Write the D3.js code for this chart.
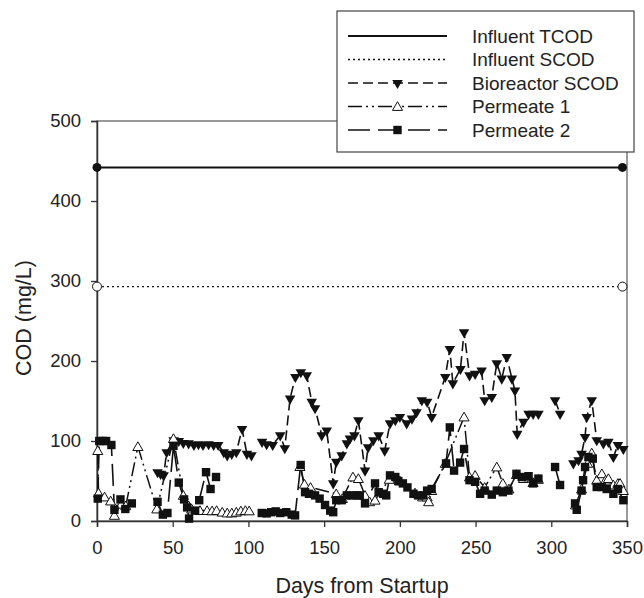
<!DOCTYPE html>
<html>
<head>
<meta charset="utf-8">
<script src="https://cdn.jsdelivr.net/npm/d3@7"></script>
<style>
    body { margin: 0; background: #fff; }
    svg text { font-family: "Liberation Sans", Arial, sans-serif; fill: #222; }
</style>
</head>
<body>
<div id="chart"></div>
<script>
// COD over days from startup

const xTicks = [0, 50, 100, 150, 200, 250, 300, 350];
const yTicks = [0, 100, 200, 300, 400, 500];

const influentDays = [0, 347];
const influentTcod = 442;
const influentScod = 293;

// [day, COD]; null value = break in the line
const bioreactorScod = [
    [40, 61], [42, 59], [44, 57], [46, 86], [50.6, 101], [54, 100], [57, 97.5], [60.5, 97],
    [64, 95], [67, 96], [70, 95], [73.7, 96], [77, 95], [80, 95], [83.7, 86], [86, 82],
    [89, 84], [92, 86], [95.8, 115], [99, 84], [102, 82], [105, null],
    [109, 99], [112, 96], [116, 95], [121, 107], [124, 91], [127.5, 153], [131, 180],
    [134.6, 186], [138.5, 182], [141.8, 149], [144, 141], [148.4, 107], [151.7, 113],
    [156, 47], [158, 74], [161.6, 82], [165, 97], [167, 103], [170, 107], [172.6, 126],
    [177, 63], [179, 92], [182.5, 101], [186, 107], [190, 88], [193.5, 122], [197, 126],
    [200, 130], [204.5, 122], [208, 128], [211, 136], [214.5, 151], [218, 149], [221, 130],
    [230, 180], [233, 215], [235, 172], [240, 190], [242.4, 236], [246, 182], [249.7, 184],
    [254, 188], [256, 151], [260.7, 155], [264, 197], [267.3, 178], [270.6, 205],
    [274, 178], [276, 163], [277.5, 109], [281.6, 124], [285, 134], [288, 134], [291.5, 134],
    [297, null], [302.5, 151], [305.8, 134], [310, null],
    [314.6, 72], [318, 76], [320, 84], [322.3, 105], [323.4, 130], [326.7, 151], [330, 101],
    [334.4, 97], [337.7, 99], [341, 80], [344, 95], [347.6, 90]
];

const permeate1 = [
    [0.5, 88], [1, 35], [5, 30], [9, 25], [11.5, 7], [16, 21], [19, 19], [27, 93],
    [39.5, 15], [50.5, 103], [57, 32], [60.5, 19], [62.5, 15], [68, 13], [72.7, 13],
    [76, 12.6], [79, 13], [82.7, 11], [86, 10], [89, 10], [92, 11], [95, 12.6], [98, 13],
    [100.5, 12.6], [115, null],
    [134, 68], [137, 46], [141, 42], [158, 34], [162, 28], [169, 55], [172.6, 53],
    [177, 32], [180, 24], [183.6, 26], [193, 52], [200, 50], [210, 35], [215, 30],
    [218, 30], [219, 24], [221, 38], [230, 72], [242.4, 130], [246, 55], [249.7, 57],
    [256, 42], [264, 67.5], [268, 47], [272, 40], [277, 58], [281.6, 53], [285, 55],
    [288, 48], [291.5, 52], [300, null],
    [316, 20], [320, 40], [324, 72], [326.7, 85], [330, 51], [333.4, 59], [335.8, 51],
    [337.7, 53], [341, 45], [344, 47], [345.4, 47], [347.6, 38]
];

const permeate2 = [
    [0.5, 28], [1.5, 100], [4, 100], [6, 100], [9.5, 95], [11.5, 14], [15.5, 27],
    [18.7, 15], [23, 22], [30, null],
    [40, 24], [43.5, 8], [46.5, 10], [50.5, 94], [54, 48], [57.5, 27], [59.5, 17],
    [60.8, 3], [64.8, 13], [67.5, 26], [72, 61], [75, 40], [78.6, 55], [90, null],
    [108.8, 10], [112, 9.5], [115, 11], [118, 12], [121, 10], [125, 11], [128.6, 8],
    [130.8, 7], [134.5, 70], [137.4, 36], [140, 34], [144, 32], [147, 28], [150.6, 20],
    [154, 13], [156, 11], [158, 26], [161.6, 26], [165, 32], [168, 32], [171.5, 32],
    [173.5, 32], [177, 22], [183.6, 47], [186, 36], [189, 34], [191, 32], [193.5, 57],
    [197, 55], [199, 50], [202, 47], [205, 42], [209, 34], [212, 32], [215.5, 32],
    [218, 38], [221, 40], [230.5, 72], [233, 117], [235.8, 63], [239.8, 73], [242.4, 90],
    [246, 51], [249.7, 49], [253, 34], [256, 38], [260.7, 33], [264, 38], [268, 36],
    [271.7, 38], [277, 59], [280.5, 55], [285, 56], [288, 47], [291.5, 53], [297, null],
    [302.5, 67.5], [305.8, 45], [310, null],
    [315.7, 22], [316.8, 14], [320, 38], [321, 51], [322.3, 67.5], [324.5, 80],
    [327.4, 78], [330, 42.5], [333.3, 42.5], [336.6, 40], [341, 34], [344, 40], [347.6, 26]
];

const legendLabels = ["Influent TCOD", "Influent SCOD", "Bioreactor SCOD", "Permeate 1", "Permeate 2"];

const W = 644, H = 598;
const margin = { top: 121, left: 97 };
const width = 530, height = 400;

const svg = d3.select("#chart").append("svg")
    .attr("width", W)
    .attr("height", H);

const x = d3.scaleLinear().domain([0, 350]).range([margin.left, margin.left + width]);
const y = d3.scaleLinear().domain([0, 500]).range([margin.top + height, margin.top]);

const axisColor = "#333";

// frame (top and right)
svg.append("rect")
    .attr("x", margin.left).attr("y", margin.top)
    .attr("width", width).attr("height", height)
    .attr("fill", "none").attr("stroke", "#555").attr("stroke-width", 1.2);

const xAxis = svg.append("g")
    .attr("transform", `translate(0,${margin.top + height})`)
    .call(d3.axisBottom(x).tickValues(xTicks).tickSize(6).tickPadding(14));

const yAxis = svg.append("g")
    .attr("transform", `translate(${margin.left},0)`)
    .call(d3.axisLeft(y).tickValues(yTicks).tickSize(6).tickPadding(10));

[xAxis, yAxis].forEach(g => {
    g.select(".domain").attr("stroke", axisColor).attr("stroke-width", 1.5);
    g.selectAll(".tick line").attr("stroke", axisColor).attr("stroke-width", 1.3);
    g.selectAll(".tick text").style("font-size", "18.5px").attr("fill", "#222");
});

svg.append("text")
    .attr("x", margin.left + width / 2)
    .attr("y", 593)
    .attr("text-anchor", "middle")
    .style("font-size", "21.5px")
    .text("Days from Startup");

svg.append("text")
    .attr("transform", `translate(31,318) rotate(-90)`)
    .attr("text-anchor", "middle")
    .style("font-size", "21.5px")
    .text("COD (mg/L)");

const series = [
    { data: influentDays.map(d => [d, influentTcod]), dash: null, width: 2, marker: "circleFilled", endsOnly: true },
    { data: influentDays.map(d => [d, influentScod]), dash: "2,3", width: 1.3, marker: "circleOpen", endsOnly: true },
    { data: bioreactorScod, dash: "10,5", width: 1.6, marker: "triDown" },
    { data: permeate1, dash: "14,4,2,4,2,4", width: 1.5, marker: "triUp" },
    { data: permeate2, dash: "22,8", width: 1.6, marker: "square" }
];

const line = d3.line()
    .defined(d => d[1] !== null)
    .x(d => x(d[0]))
    .y(d => y(d[1]));

function drawMarker(g, type, cx, cy) {
    if (type === "circleFilled") {
        g.append("circle").attr("cx", cx).attr("cy", cy).attr("r", 4.5).attr("fill", "#111");
    } else if (type === "circleOpen") {
        g.append("circle").attr("cx", cx).attr("cy", cy).attr("r", 4.5)
            .attr("fill", "#fff").attr("stroke", "#111").attr("stroke-width", 1);
    } else if (type === "triDown") {
        g.append("path").attr("d", d3.symbol(d3.symbolTriangle, 48)())
            .attr("transform", `translate(${cx},${cy}) rotate(180)`).attr("fill", "#111");
    } else if (type === "triUp") {
        g.append("path").attr("d", d3.symbol(d3.symbolTriangle, 44)())
            .attr("transform", `translate(${cx},${cy + 1})`)
            .attr("fill", "#fff").attr("stroke", "#111").attr("stroke-width", 1);
    } else if (type === "square") {
        g.append("rect").attr("x", cx - 4.2).attr("y", cy - 4.2)
            .attr("width", 8.4).attr("height", 8.4).attr("fill", "#111");
    }
}

const plot = svg.append("g");

series.forEach(s => {
    plot.append("path")
        .datum(s.data)
        .attr("fill", "none")
        .attr("stroke", "#111")
        .attr("stroke-width", s.width)
        .attr("stroke-dasharray", s.dash)
        .attr("d", line);
});

series.forEach(s => {
    const g = plot.append("g");
    s.data.filter(d => d[1] !== null).forEach(d => drawMarker(g, s.marker, x(d[0]), y(d[1])));
});

// legend
const legend = svg.append("g");
legend.append("rect")
    .attr("x", 337).attr("y", 11)
    .attr("width", 297).attr("height", 141)
    .attr("fill", "#fff").attr("stroke", "#444").attr("stroke-width", 1.2);

legendLabels.forEach((label, i) => {
    const s = series[i];
    const ly = 36 + i * 23.5;
    legend.append("line")
        .attr("x1", 348).attr("x2", 447)
        .attr("y1", ly).attr("y2", ly)
        .attr("stroke", "#111")
        .attr("stroke-width", s.width)
        .attr("stroke-dasharray", s.dash);
    if (!s.endsOnly) drawMarker(legend, s.marker, 397.5, ly);
    legend.append("text")
        .attr("x", 472).attr("y", ly)
        .attr("dy", "0.35em")
        .style("font-size", "19px")
        .text(label);
});
</script>
</body>
</html>
